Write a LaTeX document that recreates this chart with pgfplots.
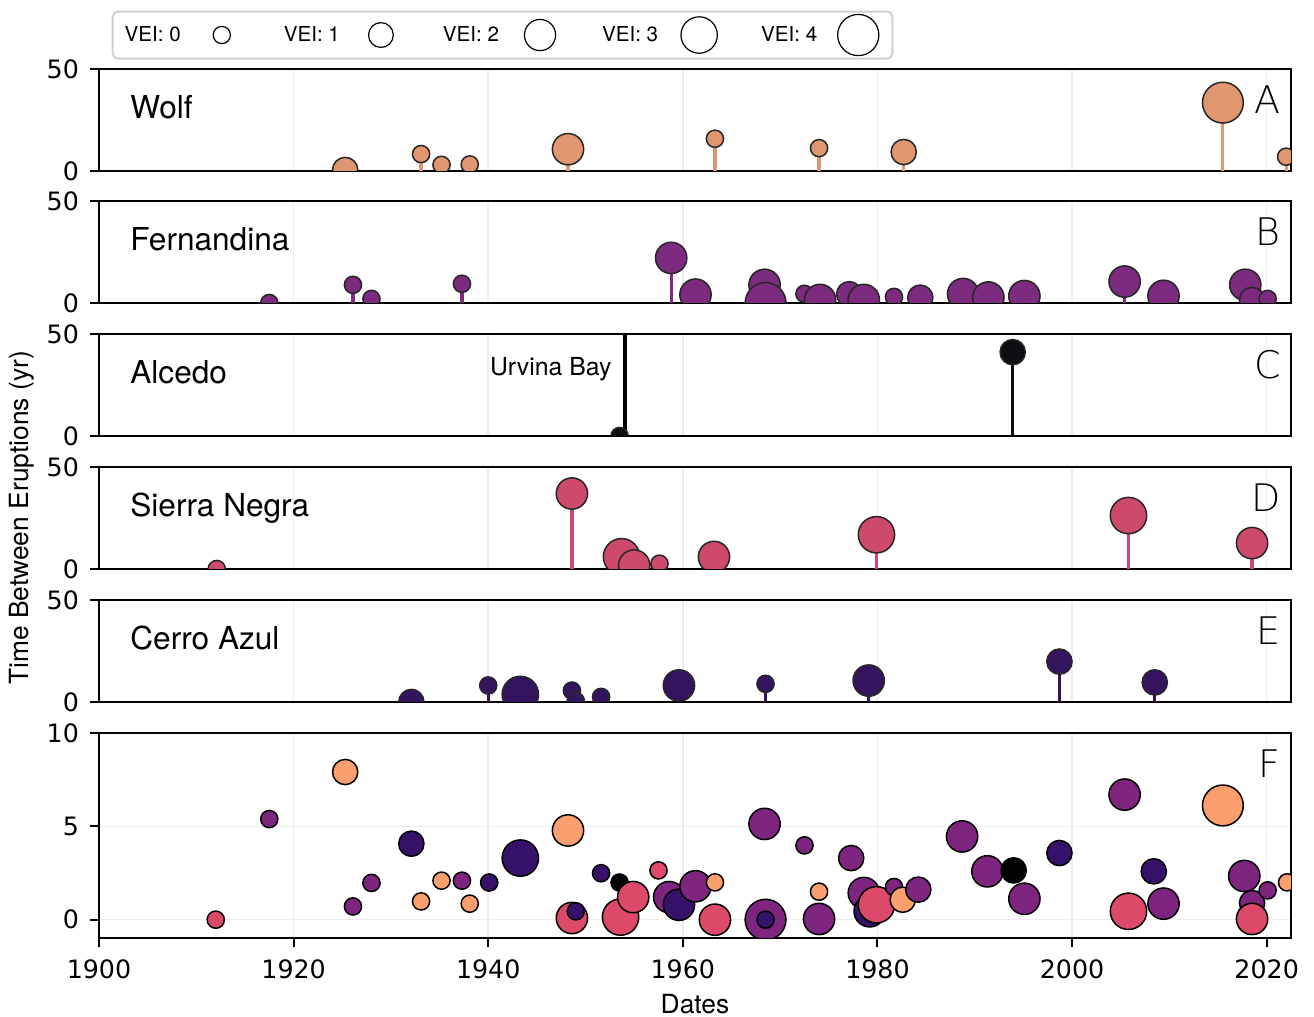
\documentclass[border=0pt]{standalone}
\usepackage{pgfplots}
\pgfplotsset{compat=1.18}
\usepackage{pgfplotstable}
\usepackage{fontspec}
\setmainfont{TeX Gyre Heros}
\newfontfamily\dejavu{DejaVu Sans}
\IfFontExistsTF{DejaVu Sans ExtraLight}{\newfontfamily\thinfont{DejaVu Sans ExtraLight}}{\newfontfamily\thinfont{TeX Gyre Heros}}

\definecolor{wolfc}{HTML}{E0966F}
\definecolor{ferc}{HTML}{7C2B7E}
\definecolor{alcc}{HTML}{0E0E12}
\definecolor{sierc}{HTML}{CE4A6C}
\definecolor{cerc}{HTML}{35145F}
\definecolor{wolfF}{HTML}{FC9F6F}
\definecolor{ferF}{HTML}{7E2580}
\definecolor{alcF}{HTML}{030306}
\definecolor{sierF}{HTML}{DD4A69}
\definecolor{cerF}{HTML}{35116A}
\definecolor{gridc}{HTML}{EDEDED}
\definecolor{legc}{HTML}{D0D0D0}

% x = date, y = time between eruptions (yr), v = VEI
\pgfplotstableread{
x y v
1925.3 0.5 1
1933.1 8.3 0
1935.2 3.0 0
1938.1 3.2 0
1948.2 10.7 2
1963.3 15.8 0
1974.0 11.2 0
1982.7 9.3 1
2015.5 33.5 4
2022.0 7.0 0
}\wolfA
\pgfplotstableread{
x y v
1917.5 0.0 0
1926.1 8.9 0
1928.0 2.0 0
1937.3 9.4 0
1958.8 22.1 2
1961.3 4.1 2
1968.4 8.9 2
1968.5 0.0 4
1972.5 4.5 0
1974.1 1.5 2
1977.1 4.3 1
1978.6 1.5 2
1981.7 3.0 0
1984.4 2.6 1
1988.8 4.4 2
1991.4 2.7 2
1995.1 3.4 2
2005.4 10.5 2
2009.4 3.5 2
2017.8 8.9 2
2018.5 1.5 1
2020.1 2.0 0
}\ferB
\pgfplotstableread{
x y v
1953.5 0.0 0
1993.9 41.1 1
}\alcC
\pgfplotstableread{
x y v
1912.1 0.0 0
1948.6 37.0 2
1953.7 6.0 3
1955.0 1.7 2
1957.6 2.6 0
1963.2 5.9 2
1979.9 16.8 3
2005.8 26.2 3
2018.5 12.7 2
}\sierD
\pgfplotstableread{
x y v
1932.1 0.0 1
1940.0 8.1 0
1943.3 3.7 3
1948.6 5.6 0
1949.0 0.5 0
1951.6 2.5 0
1959.6 8.1 2
1968.5 8.9 0
1979.1 10.5 2
1998.7 19.8 1
2008.5 9.6 1
}\cerE
\pgfplotstableread{
x y v c
1912.0 0.00 0 S
1917.5 5.39 0 F
1925.3 7.91 1 W
1926.1 0.71 0 F
1928.0 1.97 0 F
1932.1 4.07 1 C
1933.1 0.98 0 W
1935.2 2.09 0 W
1937.3 2.09 0 F
1938.1 0.86 0 W
1940.1 1.99 0 C
1943.3 3.30 3 C
1948.2 4.78 2 W
1948.5 0.30 0 C
1948.6 0.09 2 S
1949.0 0.45 0 C
1951.6 2.49 0 C
1953.5 1.99 0 A
1953.6 0.14 3 S
1954.9 1.21 2 S
1957.5 2.64 0 S
1958.6 1.21 2 F
1959.6 0.80 2 C
1961.3 1.79 2 F
1963.3 0.00 2 S
1963.3 2.00 0 W
1968.4 5.13 2 F
1968.5 0.00 4 F
1968.5 0.00 0 C
1972.5 3.98 0 F
1974.0 0.04 2 F
1974.0 1.50 0 W
1977.3 3.30 1 F
1978.6 1.43 2 F
1979.2 0.45 2 C
1979.9 0.80 3 S
1981.7 1.75 0 F
1982.6 1.07 1 W
1984.2 1.61 1 F
1988.7 4.46 2 F
1991.3 2.59 2 F
1994.0 2.64 1 A
1995.1 1.12 2 F
1998.7 3.57 1 C
2005.4 6.70 2 F
2005.8 0.45 3 S
2008.4 2.59 1 C
2009.4 0.86 2 F
2015.5 6.12 4 W
2017.7 2.34 2 F
2018.5 0.89 1 F
2018.5 0.04 2 S
2020.1 1.57 0 F
2022.1 2.00 0 W
}\allF

\pgfplotsset{
  base/.style={
    scale only axis, width=596pt,
    xmin=1900, xmax=2022.5,
    xtick={1900,1920,...,2020},
    axis line style={line width=1pt, black},
    tick align=outside, tick pos=left,
    major tick length=4.5pt,
    every tick/.append style={black, line width=1pt},
    xmajorgrids,
    major grid style={color=gridc, line width=0.75pt},
    tick label style={font=\dejavu\fontsize{12.65}{15}\selectfont},
    yticklabel style={xshift=-2pt},
    xticklabel style={yshift=-3pt},
    /pgf/number format/assume math mode=true,
    /pgf/number format/1000 sep={},
    clip marker paths=true,
  },
  panel/.style={base, height=51pt, ymin=0, ymax=50, ytick={0,50},
    xticklabels={}, xtick style={draw=none}},
  stem/.style={ycomb, line width=1.6pt, forget plot, color=#1},
  dots/.style={scatter, only marks, mark=*, line width=0.75pt, forget plot,
    scatter/use mapped color={draw=black!85, fill=#1},
    visualization depends on={sqrt(18.5+21.4*\thisrow{v}) \as \ms},
    scatter/@pre marker code/.append style={/tikz/mark size=\ms pt}},
}
\tikzset{
  pname/.style={anchor=base west, inner sep=0pt, font=\fontsize{15.8}{19}\selectfont},
  plet/.style={anchor=base east, inner sep=0pt, font=\thinfont\fontsize{19}{22}\selectfont},
}

\newcommand{\legimg}[1]{\addlegendimage{legend image code/.code={\path[draw=none,fill=none] (0pt,-11.25pt) rectangle (31.5pt,11.25pt); \draw[black, line width=0.6pt, fill=none] (20.5pt,0pt) circle (#1);}}}

\begin{document}
\begin{tikzpicture}
\useasboundingbox (0,0) rectangle (657pt,508.5pt);

% A: Wolf
\begin{axis}[panel, at={(49.5pt,423pt)}, anchor=south west,
  legend columns=5, legend plot pos=right,
  legend style={at={(0.3385,1.333)}, anchor=center, draw=legc, line width=1pt,
    rounded corners=2.5pt, font=\fontsize{10.3}{12}\selectfont,
    inner xsep=6pt, inner ysep=0.5pt,
    /tikz/every even column/.append style={column sep=20pt},
    nodes={inner xsep=0pt, inner ysep=0pt}}]
\legimg{4.3pt}\addlegendentry{VEI: 0}
\legimg{6.2pt}\addlegendentry{VEI: 1}
\legimg{7.8pt}\addlegendentry{VEI: 2}
\legimg{9.1pt}\addlegendentry{VEI: 3}
\legimg{10.3pt}\addlegendentry{VEI: 4}
\addplot[stem=wolfc] table[x=x,y=y] {\wolfA};
\addplot[dots=wolfc] table[x=x,y=y] {\wolfA};
\node[pname] at (axis description cs:0.026,0.51) {Wolf};
\node[plet] at (axis description cs:0.9916,0.565) {A};
\end{axis}

% B: Fernandina
\begin{axis}[panel, at={(49.5pt,357pt)}, anchor=south west]
\addplot[stem=ferc] table[x=x,y=y] {\ferB};
\addplot[dots=ferc] table[x=x,y=y] {\ferB};
\node[pname] at (axis description cs:0.026,0.51) {Fernandina};
\node[plet] at (axis description cs:0.9916,0.565) {B};
\end{axis}

% C: Alcedo
\begin{axis}[panel, at={(49.5pt,290.5pt)}, anchor=south west]
\addplot[black, line width=1.6pt, forget plot] coordinates {(1954.05,0) (1954.05,50)};
\addplot[stem=alcc] table[x=x,y=y] {\alcC};
\addplot[dots=alcc] table[x=x,y=y] {\alcC};
\node[pname] at (axis description cs:0.026,0.51) {Alcedo};
\node[plet] at (axis description cs:0.9916,0.565) {C};
\node[anchor=base east, inner sep=0pt, font=\fontsize{12.4}{15}\selectfont] at (axis cs:1952.7,29.7) {Urvina Bay};
\end{axis}

% D: Sierra Negra
\begin{axis}[panel, at={(49.5pt,224pt)}, anchor=south west]
\addplot[stem=sierc] table[x=x,y=y] {\sierD};
\addplot[dots=sierc] table[x=x,y=y] {\sierD};
\node[pname] at (axis description cs:0.026,0.51) {Sierra Negra};
\node[plet] at (axis description cs:0.9916,0.565) {D};
\end{axis}

% E: Cerro Azul
\begin{axis}[panel, at={(49.5pt,157.5pt)}, anchor=south west]
\addplot[stem=cerc] table[x=x,y=y] {\cerE};
\addplot[dots=cerc] table[x=x,y=y] {\cerE};
\node[pname] at (axis description cs:0.026,0.51) {Cerro Azul};
\node[plet] at (axis description cs:0.9916,0.565) {E};
\end{axis}

% F: all
\begin{axis}[base, at={(49.5pt,39.5pt)}, anchor=south west, height=102.5pt,
  ymin=-0.98, ymax=10, ytick={0,5,10}, ymajorgrids,
  xlabel={Dates},
  xlabel style={font=\fontsize{13.2}{16}\selectfont, at={(axis description cs:0.5,0)}, anchor=center, yshift=-33pt}]
\addplot[scatter, only marks, mark=*, line width=0.75pt, forget plot,
  scatter src=explicit symbolic,
  scatter/classes={
    W={draw=black, fill=wolfF},
    F={draw=black, fill=ferF},
    A={draw=black, fill=alcF},
    S={draw=black, fill=sierF},
    C={draw=black, fill=cerF}},
  visualization depends on={sqrt(18.5+21.4*\thisrow{v}) \as \ms},
  scatter/@pre marker code/.append style={/tikz/mark size=\ms pt}]
  table[x=x,y=y,meta=c] {\allF};
\node[plet] at (axis description cs:0.9916,0.785) {F};
\end{axis}

\node[rotate=90, font=\fontsize{13.2}{16}\selectfont] at (11pt,249.5pt) {Time Between Eruptions (yr)};
\end{tikzpicture}
\end{document}
